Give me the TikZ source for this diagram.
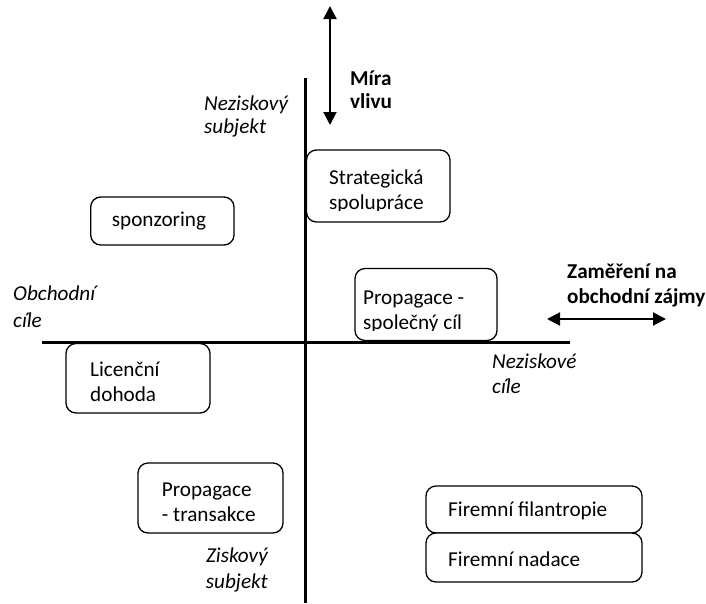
\documentclass[tikz,border=0pt]{standalone}
\usepackage{fontspec}
\setmainfont{Carlito}
\usetikzlibrary{arrows.meta}
\begin{document}
\begin{tikzpicture}[x=1pt,y=-1pt,
  axis/.style={line width=3pt},
  gauge/.style={line width=2pt,
    {Triangle[length=13pt,width=13pt]}-{Triangle[length=13pt,width=13pt]}},
  card/.style={draw,line width=1.3pt,rounded corners=10pt,fill=white,inner sep=0pt},
  txt/.style={font=\fontsize{21.2}{25}\selectfont,inner sep=0pt,anchor=base west},
  lbl/.style={txt,font=\fontsize{21.2}{25}\selectfont\itshape},
  hdr/.style={txt,font=\fontsize{21.2}{25}\selectfont\bfseries}]
\useasboundingbox (0,0) rectangle (706,603);

% axes
\coordinate (ytop) at (305.5,78);
\coordinate (ybot) at (305.5,603);
\coordinate (xl) at (42,342);
\coordinate (xr) at (570,342);
\draw[axis] (ytop) -- (ybot);
\draw[axis] (xl) -- (xr);

% double arrows
\coordinate (vt) at (330,6);
\coordinate (vb) at (330,125);
\coordinate (hl) at (547,319);
\coordinate (hr) at (666,319);
\draw[gauge] (vt) -- (vb);
\draw[gauge] (hl) -- (hr);

% arrow captions
\node[hdr] (mira1) at (350,85) {Míra};
\node[hdr] (mira2) at (350,108) {vlivu};
\node[hdr] (zam1) at (567,278) {Zaměření na};
\node[hdr] (zam2) at (567,303) {obchodní zájmy};

% axis captions
\node[lbl] (nez1) at (204,110) {Neziskový};
\node[lbl] (nez2) at (204,133) {subjekt};
\node[lbl] (obch1) at (13,300) {Obchodní};
\node[lbl] (obch2) at (13,327) {cíle};
\node[lbl] (nzc1) at (492,368) {Neziskové};
\node[lbl] (nzc2) at (492,393) {cíle};
\node[lbl,anchor=base east] (zis1) at (268,562) {Ziskový};
\node[lbl,anchor=base east] (zis2) at (268,588) {subjekt};

% boxes
\node[card,minimum width=143.5pt,minimum height=72pt] (strat) at (378.25,186) {};
\node[card,minimum width=143.3pt,minimum height=48pt] (sponz) at (162.35,221) {};
\node[card,minimum width=142pt,minimum height=72pt] (common) at (426,304.5) {};
\node[card,minimum width=144pt,minimum height=69.5pt] (lic) at (138,378.25) {};
\node[card,minimum width=145pt,minimum height=70pt] (trans) at (210.5,498) {};
\node[card,minimum width=216pt,minimum height=47pt] (phil) at (534,509.5) {};
\node[card,minimum width=216pt,minimum height=49pt] (fund) at (534,557.5) {};

% box texts (the two tall boxes cut their last line off)
\begin{scope}
  \clip (strat.north west) rectangle ([yshift=12.5pt]strat.south east);
  \node[txt] (strat1) at (329,184) {Strategická};
  \node[txt] (strat2) at (329,209) {spolupráce};
\end{scope}
\begin{scope}
  \clip (common.north west) rectangle ([yshift=11pt]common.south east);
  \node[txt] (com1) at (363,304) {Propagace -};
  \node[txt] (com2) at (363,329) {společný cíl};
\end{scope}
\node[txt] (sp) at (111.7,226.7) {sponzoring};
\node[txt] (lic1) at (90,376) {Licenční};
\node[txt] (lic2) at (90,401.7) {dohoda};
\node[txt] (tr1) at (161.7,496.7) {Propagace};
\node[txt] (tr2) at (161.7,521.7) {- transakce};
\node[txt] (ph) at (448,516.7) {Firemní filantropie};
\node[txt] (fu) at (448,566) {Firemní nadace};
\end{tikzpicture}
\end{document}
